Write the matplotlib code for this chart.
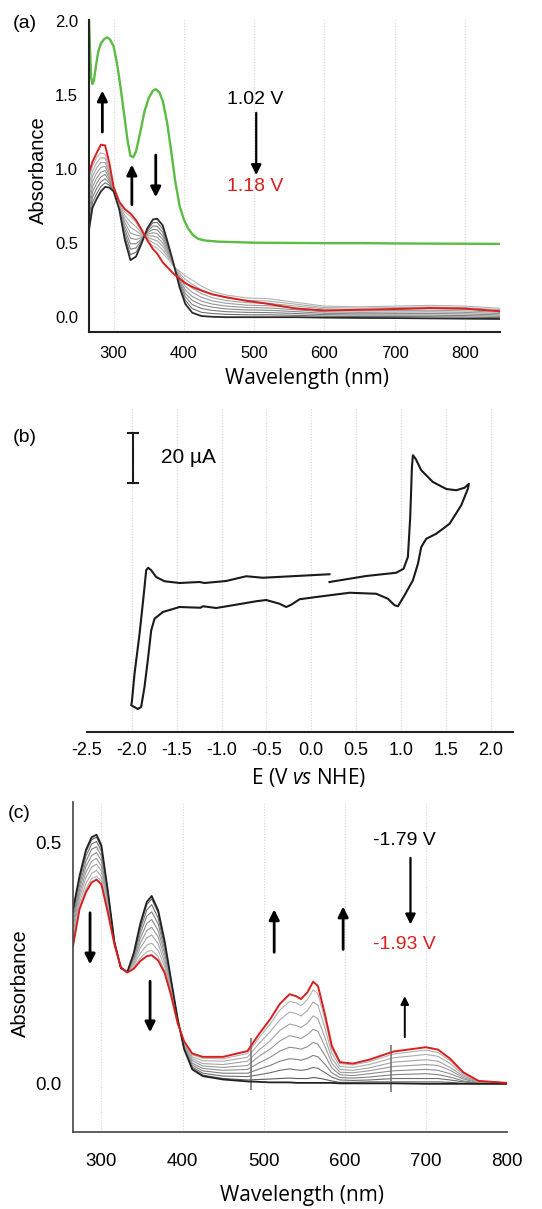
import matplotlib
matplotlib.use("Agg")
import matplotlib.pyplot as plt

plt.rcParams["font.family"] = ["Liberation Sans", "DejaVu Sans"]
plt.rcParams["mathtext.fontset"] = "custom"
plt.rcParams["mathtext.rm"] = "Open Sans"
plt.rcParams["mathtext.it"] = "Open Sans:italic"

# ---------------- (a) oxidation spectra ----------------
wl_a = [264, 270, 276, 282, 288, 294, 300, 308, 316, 324, 332, 340, 348, 356, 362, 370,
        378, 386, 394, 402, 412, 425, 440, 460, 490, 520, 560, 600, 650, 700, 750, 800, 850]

black_a = [0.56, 0.74, 0.80, 0.85, 0.88, 0.875, 0.85, 0.73, 0.52, 0.385, 0.41, 0.50, 0.60,
           0.66, 0.665, 0.62, 0.49, 0.35, 0.20, 0.09, 0.03, 0.008, 0.003, 0.0, 0.0, 0.0,
           0.0, -0.003, -0.005, -0.006, -0.008, -0.01, -0.012]

red_a = [0.96, 1.05, 1.11, 1.165, 1.16, 1.04, 0.88, 0.78, 0.73, 0.70, 0.655, 0.59, 0.52,
         0.46, 0.43, 0.37, 0.33, 0.29, 0.26, 0.23, 0.205, 0.18, 0.155, 0.135, 0.11, 0.09,
         0.058, 0.045, 0.05, 0.055, 0.062, 0.058, 0.04]

gray_a = [
    [0.605, 0.775, 0.835, 0.883, 0.908, 0.891, 0.854, 0.735, 0.544, 0.422, 0.439, 0.509, 0.59,
     0.638, 0.64, 0.596, 0.478, 0.349, 0.214, 0.114, 0.058, 0.033, 0.025, 0.019, 0.016, 0.016,
     0.0125, 0.007, 0.004, 0.004, 0.003, 0.001, -0.003],
    [0.65, 0.81, 0.87, 0.915, 0.935, 0.906, 0.858, 0.74, 0.568, 0.459, 0.468, 0.519, 0.58,
     0.615, 0.615, 0.573, 0.465, 0.348, 0.228, 0.138, 0.085, 0.059, 0.046, 0.0375, 0.0325,
     0.031, 0.025, 0.017, 0.014, 0.014, 0.014, 0.011, 0.006],
    [0.695, 0.845, 0.905, 0.948, 0.963, 0.922, 0.861, 0.745, 0.591, 0.496, 0.496, 0.528, 0.57,
     0.593, 0.59, 0.549, 0.453, 0.346, 0.241, 0.161, 0.113, 0.084, 0.068, 0.056, 0.049, 0.047,
     0.0375, 0.026, 0.023, 0.024, 0.025, 0.022, 0.015],
    [0.74, 0.88, 0.94, 0.98, 0.99, 0.938, 0.865, 0.75, 0.615, 0.533, 0.525, 0.538, 0.56, 0.57,
     0.565, 0.525, 0.44, 0.345, 0.255, 0.185, 0.14, 0.109, 0.089, 0.075, 0.065, 0.0625, 0.05,
     0.036, 0.0325, 0.0345, 0.036, 0.0325, 0.024],
    [0.785, 0.915, 0.975, 1.013, 1.018, 0.953, 0.869, 0.755, 0.639, 0.569, 0.554, 0.547, 0.55,
     0.548, 0.54, 0.501, 0.428, 0.344, 0.269, 0.209, 0.168, 0.134, 0.111, 0.094, 0.081, 0.078,
     0.0625, 0.046, 0.042, 0.045, 0.047, 0.043, 0.033],
    [0.83, 0.95, 1.01, 1.045, 1.045, 0.969, 0.873, 0.76, 0.663, 0.606, 0.583, 0.556, 0.54,
     0.525, 0.515, 0.478, 0.415, 0.343, 0.283, 0.233, 0.195, 0.16, 0.132, 0.1125, 0.0975,
     0.094, 0.075, 0.056, 0.051, 0.055, 0.058, 0.054, 0.042],
    [0.875, 0.985, 1.045, 1.078, 1.073, 0.984, 0.876, 0.765, 0.686, 0.643, 0.611, 0.566, 0.53,
     0.503, 0.49, 0.454, 0.403, 0.341, 0.296, 0.256, 0.223, 0.185, 0.154, 0.131, 0.114, 0.109,
     0.0875, 0.065, 0.061, 0.065, 0.069, 0.064, 0.051],
    [0.92, 1.02, 1.08, 1.11, 1.10, 1.00, 0.88, 0.77, 0.71, 0.68, 0.64, 0.575, 0.52, 0.48,
     0.465, 0.43, 0.39, 0.34, 0.31, 0.28, 0.25, 0.21, 0.175, 0.15, 0.13, 0.125, 0.10, 0.075,
     0.07, 0.075, 0.08, 0.075, 0.06],
]

wl_green = [265, 266.5, 268, 270, 272, 275, 278, 282, 287, 291, 295, 300, 305, 310, 315, 320,
            324, 328, 332, 338, 344, 350, 356, 360, 365, 370, 376, 382, 388, 394, 400, 406,
            413, 420, 430, 450, 487, 500, 600, 655, 700, 800, 850]
green_a = [2.02, 1.80, 1.62, 1.575, 1.60, 1.70, 1.79, 1.85, 1.88, 1.89, 1.875, 1.83, 1.71,
           1.55, 1.37, 1.19, 1.09, 1.08, 1.12, 1.25, 1.39, 1.48, 1.53, 1.54, 1.52, 1.46, 1.32,
           1.12, 0.91, 0.75, 0.66, 0.60, 0.555, 0.53, 0.518, 0.51, 0.505, 0.503, 0.50, 0.50,
           0.498, 0.496, 0.495]

# ---------------- (b) cyclic voltammogram ----------------
cv_E = [0.204, 0.613, 0.948, 1.030, 1.078, 1.104, 1.123, 1.134, 1.164, 1.227, 1.357, 1.506,
        1.617, 1.710, 1.758, 1.747, 1.673, 1.543, 1.394, 1.283, 1.227, 1.190, 1.134, 1.041,
        0.967, 0.929, 0.855, 0.725, 0.428, 0.056, -0.130, -0.223, -0.279, -0.353, -0.502,
        -0.613, -0.874, -1.059, -1.208, -1.234, -1.468, -1.654, -1.747, -1.784, -1.822,
        -1.859, -1.896, -1.933, -2.007, -2.0, -1.970, -1.914, -1.870, -1.840, -1.818, -1.784,
        -1.729, -1.636, -1.468, -1.245, -1.190, -0.948, -0.725, -0.539, 0.204]
cv_I = [2.0, 4.4, 5.7, 7.3, 12.0, 28.0, 48.0, 52.7, 51.3, 46.7, 42.0, 39.2, 38.7, 39.7, 41.3,
        39.3, 32.7, 25.3, 21.3, 19.3, 16.0, 9.3, 2.7, -3.3, -7.7, -7.3, -4.7, -2.7, -2.3, -4.0,
        -4.9, -7.1, -8.0, -6.7, -5.2, -5.7, -7.3, -8.4, -7.7, -8.3, -8.0, -10.0, -12.7, -17.3,
        -29.3, -40.0, -48.0, -48.8, -47.3, -46.0, -34.7, -18.7, -4.0, 6.7, 7.7, 6.7, 4.0, 2.3,
        1.6, 2.0, 1.6, 2.4, 4.3, 3.7, 5.1]
scale_bar_uA = 20

# ---------------- (c) reduction spectra ----------------
wl_c = [265, 273, 281, 288, 294, 300, 308, 316, 324, 332, 340, 348, 356, 362, 370, 378, 386,
        394, 402, 412, 425, 450, 480, 495, 508, 520, 532, 540, 546, 554, 561, 567, 576, 584,
        594, 610, 630, 660, 700, 715, 730, 746, 765, 800]

black_c = [0.362, 0.431, 0.486, 0.512, 0.517, 0.495, 0.40, 0.295, 0.24, 0.232, 0.272, 0.333,
           0.378, 0.39, 0.36, 0.296, 0.215, 0.135, 0.072, 0.03, 0.016, 0.009, 0.005, 0.004,
           0.003, 0.003, 0.003, 0.002, 0.002, 0.002, 0.002, 0.002, 0.002, 0.002, 0.001, 0.001,
           0.001, 0.001, 0.0, 0.0, 0.0, 0.0, 0.0, 0.0]

red_c = [0.286, 0.362, 0.398, 0.418, 0.424, 0.414, 0.355, 0.29, 0.242, 0.231, 0.239, 0.255,
         0.265, 0.267, 0.256, 0.23, 0.183, 0.126, 0.088, 0.063, 0.056, 0.056, 0.068, 0.105,
         0.134, 0.166, 0.186, 0.182, 0.176, 0.19, 0.212, 0.203, 0.141, 0.079, 0.045, 0.042,
         0.05, 0.067, 0.076, 0.071, 0.052, 0.024, 0.006, 0.002]

gray_c = [
    [0.358, 0.428, 0.482, 0.507, 0.512, 0.491, 0.398, 0.295, 0.24, 0.232, 0.270, 0.329, 0.372,
     0.384, 0.355, 0.293, 0.213, 0.135, 0.073, 0.032, 0.018, 0.011, 0.008, 0.009, 0.010, 0.011,
     0.012, 0.011, 0.011, 0.011, 0.013, 0.012, 0.009, 0.006, 0.003, 0.003, 0.004, 0.004, 0.004,
     0.004, 0.003, 0.001, 0.0, 0.0],
    [0.351, 0.421, 0.473, 0.498, 0.503, 0.483, 0.393, 0.294, 0.24, 0.232, 0.267, 0.321, 0.361,
     0.372, 0.344, 0.286, 0.210, 0.134, 0.074, 0.035, 0.022, 0.016, 0.015, 0.019, 0.023, 0.028,
     0.031, 0.029, 0.028, 0.030, 0.034, 0.032, 0.023, 0.014, 0.008, 0.007, 0.008, 0.011, 0.011,
     0.011, 0.008, 0.004, 0.001, 0.0],
    [0.342, 0.412, 0.462, 0.487, 0.492, 0.473, 0.388, 0.294, 0.241, 0.232, 0.263, 0.312, 0.348,
     0.357, 0.332, 0.278, 0.206, 0.133, 0.076, 0.039, 0.027, 0.022, 0.022, 0.031, 0.038, 0.047,
     0.052, 0.051, 0.049, 0.053, 0.059, 0.056, 0.040, 0.023, 0.013, 0.012, 0.014, 0.019, 0.021,
     0.019, 0.014, 0.006, 0.002, 0.001],
    [0.332, 0.403, 0.451, 0.474, 0.480, 0.463, 0.382, 0.293, 0.241, 0.232, 0.259, 0.302, 0.333,
     0.341, 0.318, 0.270, 0.202, 0.131, 0.078, 0.043, 0.032, 0.028, 0.030, 0.044, 0.055, 0.068,
     0.076, 0.074, 0.072, 0.077, 0.086, 0.082, 0.058, 0.033, 0.019, 0.017, 0.021, 0.027, 0.030,
     0.028, 0.021, 0.010, 0.002, 0.001],
    [0.322, 0.394, 0.439, 0.462, 0.468, 0.452, 0.376, 0.292, 0.241, 0.231, 0.255, 0.292, 0.318,
     0.325, 0.305, 0.261, 0.198, 0.130, 0.081, 0.048, 0.037, 0.034, 0.038, 0.058, 0.072, 0.089,
     0.100, 0.097, 0.094, 0.102, 0.113, 0.109, 0.076, 0.043, 0.024, 0.023, 0.027, 0.036, 0.040,
     0.038, 0.028, 0.013, 0.003, 0.001],
    [0.312, 0.386, 0.428, 0.450, 0.456, 0.442, 0.370, 0.292, 0.241, 0.231, 0.250, 0.282, 0.303,
     0.309, 0.291, 0.252, 0.194, 0.129, 0.083, 0.052, 0.042, 0.040, 0.047, 0.071, 0.089, 0.111,
     0.124, 0.121, 0.117, 0.126, 0.141, 0.135, 0.094, 0.053, 0.030, 0.028, 0.033, 0.045, 0.050,
     0.047, 0.034, 0.016, 0.004, 0.001],
    [0.301, 0.376, 0.416, 0.437, 0.443, 0.430, 0.364, 0.291, 0.242, 0.231, 0.246, 0.271, 0.288,
     0.292, 0.277, 0.243, 0.189, 0.128, 0.085, 0.056, 0.048, 0.047, 0.055, 0.085, 0.108, 0.133,
     0.149, 0.146, 0.141, 0.152, 0.170, 0.163, 0.113, 0.064, 0.036, 0.034, 0.040, 0.054, 0.061,
     0.057, 0.042, 0.019, 0.005, 0.002],
    [0.292, 0.368, 0.405, 0.426, 0.431, 0.421, 0.359, 0.290, 0.242, 0.231, 0.242, 0.261, 0.274,
     0.277, 0.264, 0.235, 0.186, 0.127, 0.087, 0.060, 0.053, 0.052, 0.063, 0.097, 0.124, 0.153,
     0.171, 0.168, 0.162, 0.175, 0.195, 0.187, 0.130, 0.073, 0.042, 0.039, 0.046, 0.062, 0.070,
     0.065, 0.048, 0.022, 0.006, 0.002],
]

spike_wl_c = [485, 657]
spike_lo_c = [-0.012, -0.016]
spike_hi_c = [0.095, 0.080]

W, H = 542, 1209
fig = plt.figure(figsize=(W / 100, H / 100), dpi=100)


def box(left, top, right, bottom):
    return [left / W, 1 - bottom / H, (right - left) / W, (bottom - top) / H]


def arrow(ax, x, y0, y1, lw=2.0, ms=15):
    ax.annotate("", xy=(x, y1), xytext=(x, y0),
                arrowprops=dict(arrowstyle="-|>", color="black", lw=lw,
                                mutation_scale=ms, shrinkA=0, shrinkB=0))


def vgrid(ax, xs):
    for x in xs:
        ax.axvline(x, color="#d8d8d8", lw=0.8, ls=(0, (1, 1.5)), zorder=0)


label_font = dict(family="Open Sans", fontsize=15)

# panel (a)
ax = fig.add_axes(box(89, 20, 500, 332))
vgrid(ax, [300, 400, 500, 600, 700, 800])
shades = ["#6e6e6e", "#7c7c7c", "#888888", "#939393", "#9d9d9d", "#a6a6a6", "#adadad", "#b3b3b3"]
for row, c in zip(gray_a, shades):
    ax.plot(wl_a, row, color=c, lw=0.8)
ax.plot(wl_a, black_a, color="#2a2a2a", lw=1.3)
ax.plot(wl_a, red_a, color="#d9201e", lw=1.4)
ax.plot(wl_green, green_a, color="#5cbb44", lw=1.7)
ax.set_xlim(265, 850)
ax.set_ylim(-0.1, 2.007)
ax.set_xticks([300, 400, 500, 600, 700, 800])
ax.set_yticks([0.0, 0.5, 1.0, 1.5, 2.0])
ax.set_yticklabels(["0.0", "0.5", "1.0", "1.5", "2.0"])
ax.tick_params(length=0, labelsize=12)
ax.tick_params(axis="x", pad=10)
ax.tick_params(axis="y", pad=8)
for s in ["top", "right"]:
    ax.spines[s].set_visible(False)
for s in ["left", "bottom"]:
    ax.spines[s].set_linewidth(1.5)
    ax.spines[s].set_color("#222222")
ax.set_xlabel("Wavelength (nm)", **label_font)
ax.xaxis.set_label_coords(0.53, -0.115)
ax.set_ylabel("Absorbance", fontsize=14.5)
ax.yaxis.set_label_coords(-0.10, 0.52)
arrow(ax, 284, 1.25, 1.53)
arrow(ax, 326, 0.76, 1.03)
arrow(ax, 360, 1.095, 0.81)
arrow(ax, 503, 1.38, 0.96, lw=1.6)
ax.text(501, 1.47, "1.02 V", ha="center", va="center", fontsize=14)
ax.text(501, 0.88, "1.18 V", ha="center", va="center", fontsize=14, color="#d9201e")

# panel (b)
ax = fig.add_axes(box(87, 407, 513, 732))
vgrid(ax, [-2.0, -1.5, -1.0, -0.5, 0.0, 0.5, 1.0, 1.5, 2.0])
ax.plot(cv_E, cv_I, color="#1a1a1a", lw=1.5)
ax.set_xlim(-2.5, 2.25)
ax.set_ylim(-58, 72)
ax.set_xticks([-2.5, -2.0, -1.5, -1.0, -0.5, 0.0, 0.5, 1.0, 1.5, 2.0])
ax.set_xticklabels(["-2.5", "-2.0", "-1.5", "-1.0", "-0.5", "0.0", "0.5", "1.0", "1.5", "2.0"])
ax.set_yticks([])
ax.tick_params(length=0, labelsize=13, pad=7)
for s in ["top", "right", "left"]:
    ax.spines[s].set_visible(False)
ax.spines["bottom"].set_linewidth(1.5)
ax.spines["bottom"].set_color("#222222")
ax.set_xlabel("E (V $\\it{vs}$ NHE)", **label_font)
ax.xaxis.set_label_coords(0.52, -0.105)
bar_lo = 41.7
ax.plot([-1.99, -1.99], [bar_lo, bar_lo + scale_bar_uA], color="#1a1a1a", lw=1.5)
for yy in [bar_lo, bar_lo + scale_bar_uA]:
    ax.plot([-2.045, -1.935], [yy, yy], color="#1a1a1a", lw=1.5)
ax.text(-1.68, bar_lo + scale_bar_uA / 2, "20 \u00b5A", ha="left", va="center", fontsize=15)

# panel (c)
ax = fig.add_axes(box(73, 802, 507, 1132))
vgrid(ax, [300, 400, 500, 600, 700, 800])
shades_c = ["#5a5a5a", "#6e6e6e", "#808080", "#8e8e8e", "#9a9a9a", "#a4a4a4", "#acacac", "#b2b2b2"]
for row, c in zip(gray_c, shades_c):
    ax.plot(wl_c, row, color=c, lw=0.8)
ax.vlines(spike_wl_c, spike_lo_c, spike_hi_c, color="#777777", lw=1.2)
ax.plot(wl_c, black_c, color="#222222", lw=1.3)
ax.plot(wl_c, red_c, color="#d9201e", lw=1.4)
ax.set_xlim(265, 800)
ax.set_ylim(-0.1, 0.585)
ax.set_xticks([300, 400, 500, 600, 700, 800])
ax.set_yticks([0.0, 0.5])
ax.set_yticklabels(["0.0", "0.5"])
ax.tick_params(length=0, labelsize=13.5)
ax.tick_params(axis="x", pad=15)
ax.tick_params(axis="y", pad=8)
for s in ["top", "right"]:
    ax.spines[s].set_visible(False)
for s in ["left", "bottom"]:
    ax.spines[s].set_linewidth(1.2)
    ax.spines[s].set_color("#444444")
ax.set_xlabel("Wavelength (nm)", **label_font)
ax.xaxis.set_label_coords(0.528, -0.16)
ax.set_ylabel("Absorbance", fontsize=14.5)
ax.yaxis.set_label_coords(-0.10, 0.45)
arrow(ax, 286, 0.355, 0.248)
arrow(ax, 360, 0.213, 0.107)
arrow(ax, 513, 0.273, 0.362)
arrow(ax, 598, 0.279, 0.368)
arrow(ax, 674, 0.097, 0.182, lw=1.4, ms=12)
arrow(ax, 681, 0.469, 0.331, lw=1.6)
ax.text(673, 0.506, "-1.79 V", ha="center", va="center", fontsize=14)
ax.text(673, 0.289, "-1.93 V", ha="center", va="center", fontsize=14, color="#d9201e")

fig.text(13 / W, 1 - 23 / H, "(a)", ha="left", va="center", fontsize=14)
fig.text(13 / W, 1 - 437 / H, "(b)", ha="left", va="center", fontsize=14)
fig.text(8 / W, 1 - 813 / H, "(c)", ha="left", va="center", fontsize=14)

fig.savefig("out.png", dpi=100)
plt.close(fig)
